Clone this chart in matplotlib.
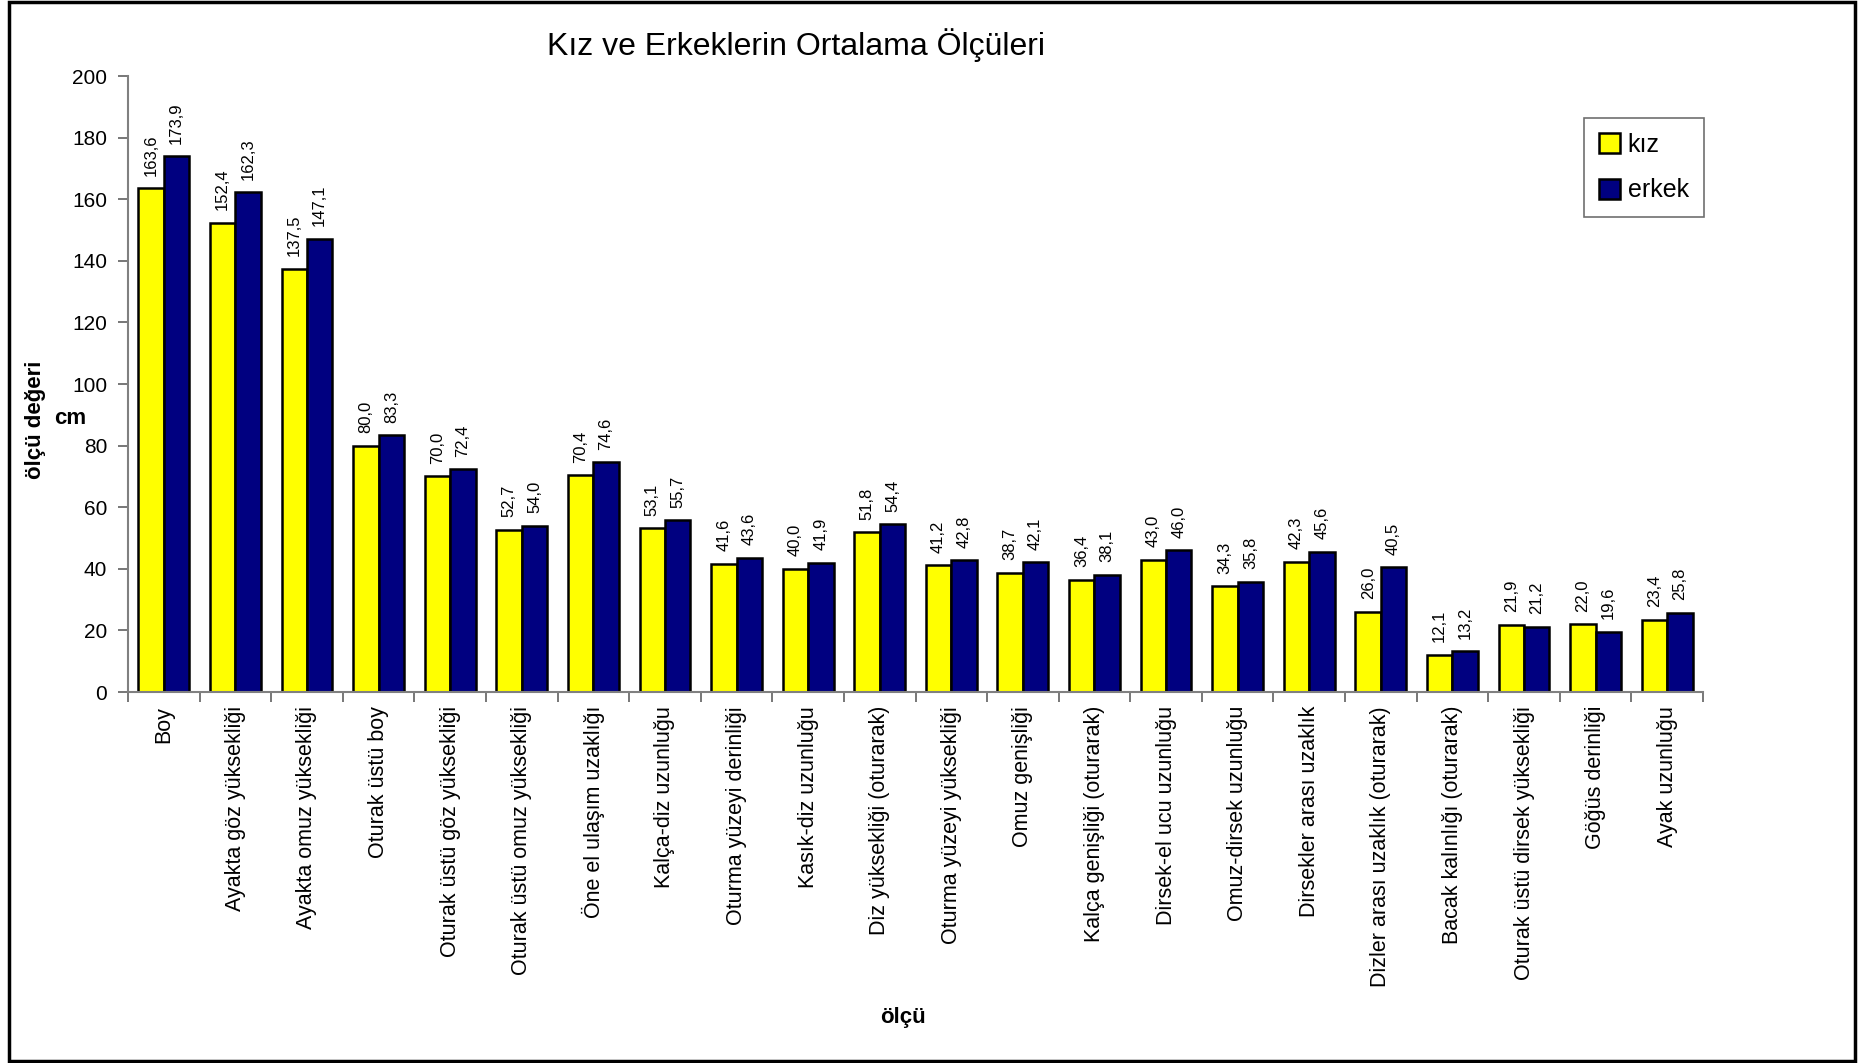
#!/usr/bin/env python3
"""
Kız ve erkeklerin ortalama ölçüleri - grouped bar chart
"""

import matplotlib
matplotlib.use('Agg')
import matplotlib.pyplot as plt
from matplotlib.patches import Rectangle
import numpy as np

plt.rcParams['font.family'] = ['Liberation Sans', 'DejaVu Sans']

categories = [
    'Boy', 'Ayakta göz yüksekliği', 'Ayakta omuz yüksekliği', 'Oturak üstü boy',
    'Oturak üstü göz yüksekliği', 'Oturak üstü omuz yüksekliği',
    'Öne el ulaşım uzaklığı', 'Kalça-diz uzunluğu', 'Oturma yüzeyi derinliği',
    'Kasık-diz uzunluğu', 'Diz yüksekliği (oturarak)', 'Oturma yüzeyi yüksekliği',
    'Omuz genişliği', 'Kalça genişliği (oturarak)', 'Dirsek-el ucu uzunluğu',
    'Omuz-dirsek uzunluğu', 'Dirsekler arası uzaklık',
    'Dizler arası uzaklık (oturarak)', 'Bacak kalınlığı (oturarak)',
    'Oturak üstü dirsek yüksekliği', 'Göğüs derinliği', 'Ayak uzunluğu',
]
kiz = [163.6, 152.4, 137.5, 80.0, 70.0, 52.7, 70.4, 53.1, 41.6, 40.0, 51.8,
       41.2, 38.7, 36.4, 43.0, 34.3, 42.3, 26.0, 12.1, 21.9, 22.0, 23.4]
erkek = [173.9, 162.3, 147.1, 83.3, 72.4, 54.0, 74.6, 55.7, 43.6, 41.9, 54.4,
         42.8, 42.1, 38.1, 46.0, 35.8, 45.6, 40.5, 13.2, 21.2, 19.6, 25.8]
y_ticks = [0, 20, 40, 60, 80, 100, 120, 140, 160, 180, 200]

W, H = 1861, 1063
fig = plt.figure(figsize=(W / 100, H / 100), dpi=100)
ax = fig.add_axes([128 / W, 1 - 692 / H, (1703 - 128) / W, (692 - 76) / H])

x = np.arange(len(categories))
bw = 0.355
b1 = ax.bar(x - bw / 2, kiz, bw, color='#FFFF00', edgecolor='black',
            linewidth=1.8, label='kız')
b2 = ax.bar(x + bw / 2, erkek, bw, color='#000080', edgecolor='black',
            linewidth=1.8, label='erkek')

fmt = lambda v: f'{v:.1f}'.replace('.', ',')
for bars, vals in ((b1, kiz), (b2, erkek)):
    ax.bar_label(bars, labels=[fmt(v) for v in vals], rotation=90,
                 padding=9, fontsize=12)

ax.set_xlim(-0.5, len(categories) - 0.5)
ax.set_ylim(0, 200)
ax.set_yticks(y_ticks)
ax.tick_params(axis='y', labelsize=15, length=7, width=1.2, color='#606060',
               direction='out', pad=8)

ax.set_xticks(x)
ax.set_xticklabels(categories, rotation=90, fontsize=15.5, va='top')
ax.tick_params(axis='x', which='major', length=0, pad=10)
ax.set_xticks(np.arange(len(categories) + 1) - 0.5, minor=True)
ax.tick_params(axis='x', which='minor', length=7, width=1.2, color='#606060')

for s in ('top', 'right'):
    ax.spines[s].set_visible(False)
for s in ('left', 'bottom'):
    ax.spines[s].set_color('#808080')
    ax.spines[s].set_linewidth(1.5)

fig.text(796 / W, 1 - 45 / H, 'Kız ve Erkeklerin Ortalama Ölçüleri',
         ha='center', va='center', fontsize=23)
fig.text(35 / W, 1 - 420 / H, 'ölçü değeri', rotation=90, ha='center',
         va='center', fontsize=16, fontweight='bold')
fig.text(70 / W, 1 - 418 / H, 'cm', ha='center', va='center', fontsize=16,
         fontweight='bold')
fig.text(903 / W, 1 - 1018 / H, 'ölçü', ha='center', va='center',
         fontsize=16, fontweight='bold')

leg = ax.legend(loc='upper left', bbox_to_anchor=(1584 / W, 1 - 118 / H),
                bbox_transform=fig.transFigure, fontsize=18, frameon=True,
                fancybox=False, edgecolor='#707070', framealpha=1,
                handlelength=0.85, handleheight=0.85, handletextpad=0.3,
                labelspacing=0.85, borderpad=0.6, borderaxespad=0)
leg.get_frame().set_linewidth(1.2)

fig.patches.append(Rectangle((9 / W, 2 / H), (1855 - 9) / W, (1061 - 2) / H,
                             transform=fig.transFigure, fill=False,
                             edgecolor='black', linewidth=2.5))

fig.savefig('out.png', dpi=100)
